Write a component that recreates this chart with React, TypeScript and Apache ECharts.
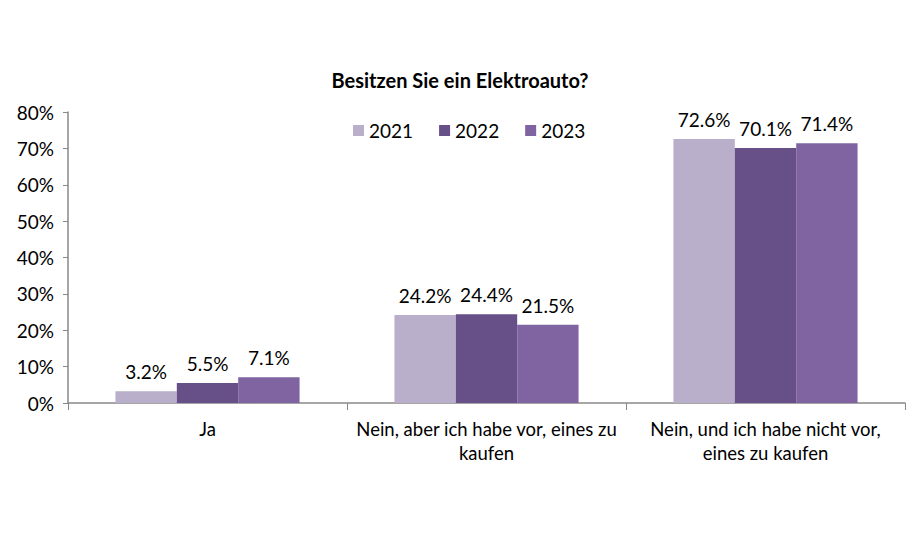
import React, { useEffect, useRef } from "react";
import * as echarts from "echarts";

const categories = ["Ja", "Nein, aber ich habe vor, eines zu\nkaufen", "Nein, und ich habe nicht vor,\neines zu kaufen"];
const years = ["2021", "2022", "2023"];
const values2021 = [3.2, 24.2, 72.6];
const values2022 = [5.5, 24.4, 70.1];
const values2023 = [7.1, 21.5, 71.4];
const colors = ["#B9AFCB", "#674F87", "#8064A2"];

const FONT = "Lato, 'Open Sans', sans-serif";

export default function App() {
  const ref = useRef<HTMLDivElement>(null);
  useEffect(() => {
    document.body.style.margin = "0";
    if (!ref.current) return;
    const chart = echarts.init(ref.current, null, { renderer: "svg" });
    const seriesData = [values2021, values2022, values2023];
    chart.setOption({
      animation: false,
      backgroundColor: "#ffffff",
      title: {
        text: "Besitzen Sie ein Elektroauto?",
        left: "center",
        top: 65,
        textStyle: { fontFamily: FONT, fontSize: 20, fontWeight: "bold", color: "#000" },
      },
      legend: {
        data: years,
        top: 116,
        left: 348,
        itemWidth: 11,
        itemHeight: 11,
        itemGap: 26,
        icon: "rect",
        textStyle: { fontFamily: FONT, fontSize: 19, color: "#000" },
      },
      grid: { left: 68, right: 15, top: 112, bottom: 137, containLabel: false },
      xAxis: {
        type: "category",
        data: categories,
        axisLine: { lineStyle: { color: "#888", width: 1.5 } },
        axisTick: { show: true, alignWithLabel: false, length: 7, lineStyle: { color: "#888" } },
        axisLabel: { fontFamily: FONT, fontSize: 18.5, color: "#000", margin: 14, lineHeight: 24, interval: 0 },
      },
      yAxis: {
        type: "value",
        min: 0,
        max: 80,
        interval: 10,
        splitLine: { show: false },
        axisLine: { show: true, lineStyle: { color: "#888", width: 1.5 } },
        axisTick: { show: true, length: 5, lineStyle: { color: "#888" } },
        axisLabel: { fontFamily: FONT, fontSize: 19, color: "#000", margin: 14, formatter: "{value}%" },
      },
      series: years.map((y, i) => ({
        name: y,
        type: "bar",
        data: seriesData[i],
        barCategoryGap: "34%",
        barGap: "0%",
        itemStyle: { color: colors[i] },
        label: {
          show: true,
          position: "top",
          distance: 10,
          fontFamily: FONT,
          fontSize: 19,
          color: "#000",
          formatter: (p: any) => p.value.toFixed(1) + "%",
        },
      })),
    });
    return () => chart.dispose();
  }, []);
  return <div ref={ref} style={{ width: 920, height: 540 }} />;
}
